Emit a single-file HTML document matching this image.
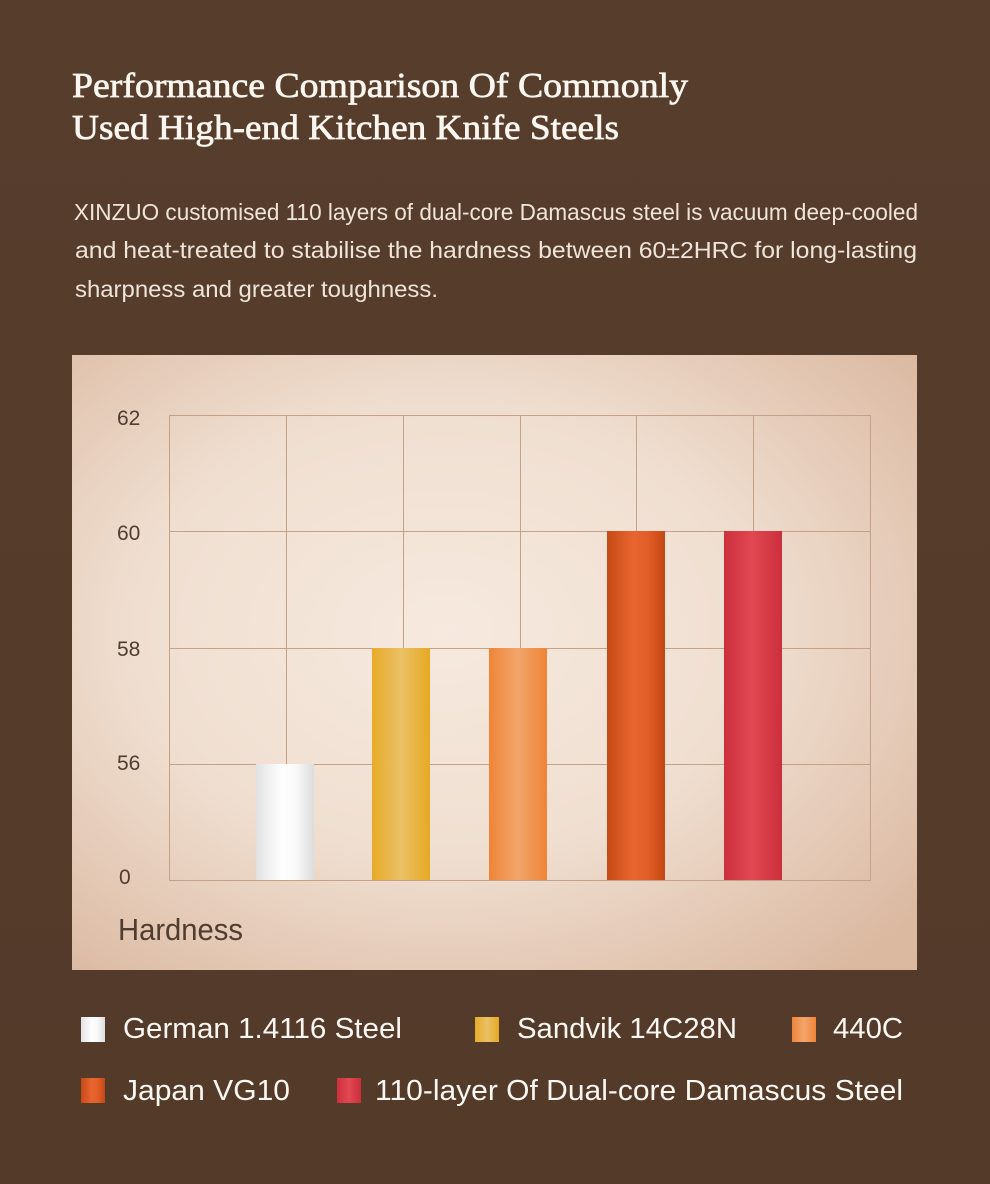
<!DOCTYPE html>
<html><head><meta charset="utf-8"><style>
html,body{margin:0;padding:0;background:#553b2a;}
svg{display:block;}
</style></head><body>
<svg width="990" height="1184" viewBox="0 0 990 1184" xmlns="http://www.w3.org/2000/svg">
<defs>
<linearGradient id="bg" x1="0" y1="0" x2="0" y2="1">
<stop offset="0" stop-color="#573d2c"/><stop offset="1" stop-color="#533a29"/>
</linearGradient>
<radialGradient id="panel" cx="0.44" cy="0.45" r="0.72">
<stop offset="0" stop-color="#f6e9de"/><stop offset="0.5" stop-color="#f0dfd1"/><stop offset="1" stop-color="#dbb9a1"/>
</radialGradient>
<linearGradient id="gW" x1="0" x2="1"><stop offset="0" stop-color="#e2e2e2"/><stop offset="0.45" stop-color="#ffffff"/><stop offset="0.7" stop-color="#f8f8f8"/><stop offset="1" stop-color="#dcdcdc"/></linearGradient>
<linearGradient id="gY" x1="0" x2="1"><stop offset="0" stop-color="#e7ab28"/><stop offset="0.5" stop-color="#eac166"/><stop offset="1" stop-color="#e6a923"/></linearGradient>
<linearGradient id="gO" x1="0" x2="1"><stop offset="0" stop-color="#ee8538"/><stop offset="0.5" stop-color="#f3a56c"/><stop offset="1" stop-color="#ee8436"/></linearGradient>
<linearGradient id="gV" x1="0" x2="1"><stop offset="0" stop-color="#c64a16"/><stop offset="0.45" stop-color="#e8652f"/><stop offset="0.7" stop-color="#e25e28"/><stop offset="1" stop-color="#c44814"/></linearGradient>
<linearGradient id="gR" x1="0" x2="1"><stop offset="0" stop-color="#cd303d"/><stop offset="0.5" stop-color="#e04852"/><stop offset="1" stop-color="#cc2f3c"/></linearGradient>
</defs>
<rect x="0" y="0" width="990" height="1184" fill="url(#bg)"/>

<g font-family="'Liberation Serif', serif" fill="#fbf6f0" stroke="#fbf6f0" stroke-width="0.7" font-size="35">
<text x="72" y="97" textLength="616" lengthAdjust="spacingAndGlyphs">Performance Comparison Of Commonly</text>
<text x="72" y="139" textLength="547" lengthAdjust="spacingAndGlyphs">Used High-end Kitchen Knife Steels</text>
</g>

<g font-family="'Liberation Sans', sans-serif" fill="#efe4da" font-size="23">
<text x="74" y="220" textLength="844" lengthAdjust="spacingAndGlyphs">XINZUO customised 110 layers of dual-core Damascus steel  is vacuum deep-cooled</text>
<text x="75" y="258" textLength="842" lengthAdjust="spacingAndGlyphs">and heat-treated to stabilise the hardness between 60±2HRC for long-lasting</text>
<text x="75" y="297" textLength="363" lengthAdjust="spacingAndGlyphs">sharpness and greater toughness.</text>
</g>

<rect x="72" y="355" width="845" height="615" fill="url(#panel)"/>

<g stroke="#c4a187" stroke-width="1" fill="none">
<rect x="169.5" y="415.5" width="701" height="465"/>
<line x1="169" y1="531.5" x2="871" y2="531.5"/>
<line x1="169" y1="648.5" x2="871" y2="648.5"/>
<line x1="169" y1="764.5" x2="871" y2="764.5"/>
<line x1="286.5" y1="415" x2="286.5" y2="881"/>
<line x1="403.5" y1="415" x2="403.5" y2="881"/>
<line x1="520.5" y1="415" x2="520.5" y2="881"/>
<line x1="636.5" y1="415" x2="636.5" y2="881"/>
<line x1="753.5" y1="415" x2="753.5" y2="881"/>
</g>

<rect x="256" y="764" width="58" height="116" fill="url(#gW)"/>
<rect x="372" y="648" width="58" height="232" fill="url(#gY)"/>
<rect x="489" y="648" width="58" height="232" fill="url(#gO)"/>
<rect x="607" y="531" width="58" height="349" fill="url(#gV)"/>
<rect x="724" y="531" width="58" height="349" fill="url(#gR)"/>

<g font-family="'Liberation Sans', sans-serif" fill="#4f3d31" font-size="21">
<text x="117" y="425">62</text>
<text x="117" y="540">60</text>
<text x="117" y="656">58</text>
<text x="117" y="770">56</text>
<text x="119" y="884">0</text>
<text x="118" y="940" font-size="31" textLength="125" lengthAdjust="spacingAndGlyphs">Hardness</text>
</g>

<rect x="81" y="1017" width="24" height="25" fill="url(#gW)"/>
<rect x="475" y="1017" width="24" height="25" fill="url(#gY)"/>
<rect x="792" y="1017" width="24" height="25" fill="url(#gO)"/>
<rect x="81" y="1078" width="24" height="25" fill="url(#gV)"/>
<rect x="337" y="1078" width="24" height="25" fill="url(#gR)"/>

<g font-family="'Liberation Sans', sans-serif" fill="#fbf7f2" font-size="29">
<text x="123" y="1038" textLength="279" lengthAdjust="spacingAndGlyphs">German 1.4116 Steel</text>
<text x="517" y="1038" textLength="220" lengthAdjust="spacingAndGlyphs">Sandvik 14C28N</text>
<text x="833" y="1038" textLength="70" lengthAdjust="spacingAndGlyphs">440C</text>
<text x="123" y="1100" textLength="167" lengthAdjust="spacingAndGlyphs">Japan  VG10</text>
<text x="375" y="1100" textLength="528" lengthAdjust="spacingAndGlyphs">110-layer Of Dual-core Damascus Steel</text>
</g>
</svg>
</body></html>
